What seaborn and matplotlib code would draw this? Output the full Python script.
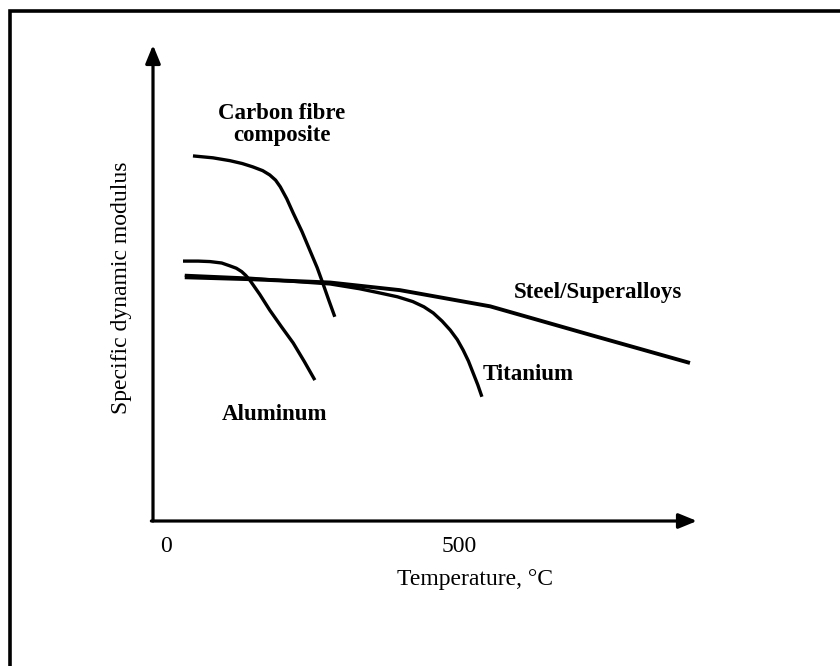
import numpy as np
import pandas as pd
import matplotlib
matplotlib.use("Agg")
import matplotlib.pyplot as plt
import matplotlib.patches as patches
import seaborn as sns

# Curves (temperature in degC, modulus in arbitrary units)
carbon_t = [46, 80, 109, 130, 148, 165, 177, 187, 195, 206, 217, 232, 246, 258, 268, 278, 288]
carbon_v = [76.7, 76.3, 75.7, 75.1, 74.4, 73.6, 72.7, 71.6, 70.2, 67.7, 64.7, 60.8, 56.7, 53.2, 49.8, 46.3, 42.9]

alu_t = [29, 55, 75, 95, 109, 120, 129, 136, 143, 160, 177, 197, 217, 236, 254]
alu_v = [54.6, 54.6, 54.5, 54.2, 53.6, 53.1, 52.4, 51.6, 50.6, 47.6, 44.3, 40.8, 37.4, 33.5, 29.6]

steel_t = [32, 143, 280, 399, 553, 724, 894]
steel_v = [51.2, 50.8, 50.1, 48.5, 45.1, 39.1, 33.2]

ti_t = [32, 143, 280, 330, 365, 395, 421, 440, 456, 471, 485, 497, 507, 516, 524, 532, 539]
ti_v = [51.6, 51.0, 49.8, 48.8, 47.9, 47.1, 46.1, 45.0, 43.7, 42.0, 40.1, 38.1, 35.9, 33.6, 31.1, 28.6, 26.1]

x_ticks = [0, 500]
x_tick_labels = ["0", "500"]

sns.set_style("white")
plt.rcParams['font.family'] = ['Liberation Serif', 'DejaVu Serif']
plt.rcParams['text.color'] = 'black'
plt.rcParams['axes.labelcolor'] = 'black'
plt.rcParams['xtick.color'] = 'black'

fig = plt.figure(figsize=(8.4, 6.66), dpi=100)
ax = fig.add_axes([153 / 840, 1 - 521 / 666, 544 / 840, 476 / 666])

for t, v, lw in [(carbon_t, carbon_v, 2.4), (alu_t, alu_v, 2.4),
                 (steel_t, steel_v, 2.8), (ti_t, ti_v, 2.4)]:
    sns.lineplot(x=t, y=v, ax=ax, color="black", linewidth=lw,
                 sort=False, estimator=None, solid_capstyle="butt")

ax.set_xlim(-22.2, 906)
ax.set_ylim(0, 100)

for s in ax.spines.values():
    s.set_visible(False)

# axis arrows
arrow = dict(arrowstyle="-|>,head_length=1.1,head_width=0.45", color="black",
             lw=2.3, shrinkA=0, shrinkB=0)
ax.annotate("", xy=(0, 1), xytext=(0, 0), xycoords="axes fraction",
            arrowprops=arrow, annotation_clip=False)
ax.annotate("", xy=(1, 0), xytext=(-0.003, 0), xycoords="axes fraction",
            arrowprops=arrow, annotation_clip=False)

ax.set_xticks(x_ticks)
ax.set_xticklabels(x_tick_labels, fontsize=17)
ax.set_yticks([])
ax.tick_params(axis="x", length=0, pad=11)

ax.set_xlabel("Temperature, \u00b0C", fontsize=17, va="center")
ax.xaxis.set_label_coords((475 - 153) / 544, (521 - 580) / 476)
ax.set_ylabel("Specific dynamic modulus", fontsize=17, va="center")
ax.yaxis.set_label_coords((121 - 153) / 544, (521 - 288) / 476)

lab = dict(fontsize=16.5, fontweight="bold", ha="center", va="center")
ax.text(198, 83.3, "Carbon fibre\ncomposite", linespacing=1.1, **lab)
ax.text(737, 48.1, "Steel/Superalloys", **lab)
ax.text(618, 30.7, "Titanium", **lab)
ax.text(186, 22.3, "Aluminum", **lab)

# frame around the figure (cut off at right and bottom)
fig.patches.append(patches.Rectangle((10 / 840, -0.1), 1.2, 1 - 11 / 666 + 0.1,
                                     transform=fig.transFigure, fill=False,
                                     edgecolor="black", linewidth=2.6))

fig.savefig("out.png", dpi=100)
